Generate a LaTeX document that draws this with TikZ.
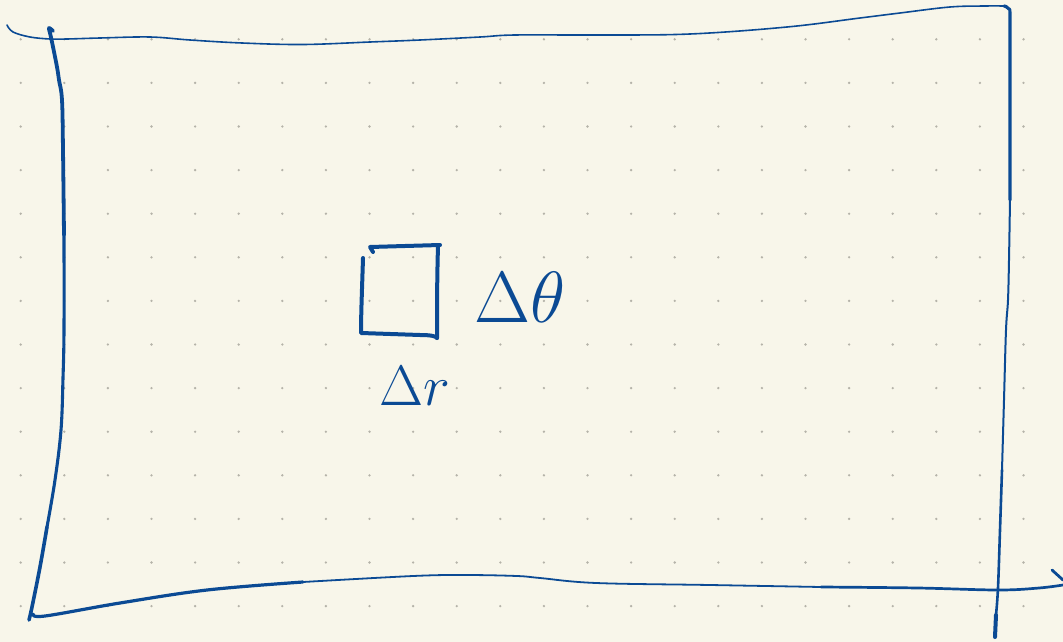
\documentclass[tikz,border=0pt]{standalone}
\usepackage{amsmath}
\definecolor{paper}{HTML}{F8F6EA}
\definecolor{ink}{HTML}{0B4A94}
\definecolor{dotc}{HTML}{B5B3A9}
\tikzset{
  pen/.style={draw=ink,line cap=round,line join=round},
  hand/.style={text=ink,inner sep=0pt,anchor=base west,font=\fontsize{16}{16}\selectfont},
}
\begin{document}
\begin{tikzpicture}[x=1pt,y=-1pt]
\fill[paper] (0,0) rectangle (1063,642);
\useasboundingbox (0,0) rectangle (1063,642);
% dot grid
\foreach \i in {0,...,23}{
  \foreach \j in {0,...,13}{
    \fill[dotc] ({20.7+43.6*\i},{39.3+43.6*\j}) circle (1.3);
  }
}
% top line
\draw[pen,line width=1.6] plot[smooth,tension=0.6] coordinates {(7,25)(13,32)(30,37)(50,39)(67,39)(100,38)(150,37)(190,40)(242,43)(303,44.5)(370,42)(420,40)(480,37)(515,35)(600,35)(690,34)(787,27)(860,18)(900,13)(950,7)(985,6)(1004,6)};
% right line
\draw[pen,line width=3.2] plot[smooth,tension=0.6] coordinates {(1004,6)(1009,9)(1010,20)(1010,100)(1010,200)};
\draw[pen,line width=2] plot[smooth,tension=0.6] coordinates {(1010,200)(1009,260)(1008,300)(1006,330)(1004,400)(1002,470)};
\draw[pen,line width=2.6] plot[smooth,tension=0.6] coordinates {(1002,470)(1000,530)(998,588)(996,615)};
\draw[pen,line width=4] (996,615) -- (995,637);
% left line
\draw[pen,line width=3.8] plot[smooth,tension=0.6] coordinates {(53,31)(49,28)(50,33)(52,42)(57,67)(59,80)(62,100)(63,150)(64,235)};
\draw[pen,line width=3.1] plot[smooth,tension=0.6] coordinates {(64,235)(64,330)(63,378)(61,430)(55,480)(47,527)};
\draw[pen,line width=3.6] plot[smooth,tension=0.6] coordinates {(47,527)(40,567)(32,607)(29,620)};
% bottom line
\draw[pen,line width=3.2] plot[smooth,tension=0.6] coordinates {(33,614)(45,616)(120,603)(207,590)(303,582)};
\draw[pen,line width=1.8] plot[smooth,tension=0.6] coordinates {(303,582)(413,576)(465,575)(517,576)(540,578)(596,583)(710,585)(821,587)};
\draw[pen,line width=2.7] plot[smooth,tension=0.6] coordinates {(821,587)(918,588)(998,590)(1039,588)(1063,585)};
\draw[pen,line width=2.8] (1052,570) -- (1063,580);
% small cell
\draw[pen,line width=4] (373,252) -- (370,247) -- (440,245);
\draw[pen,line width=4] (438,246) .. controls (437,280) and (437,310) .. (437,338);
\draw[pen,line width=4] (363,258) .. controls (362,290) and (361,315) .. (361,333) -- (420,335) .. controls (430,335) and (436,336) .. (437,338);
% labels
\node[hand,scale=4.2] (dtheta) at (474,322) {$\Delta\theta$};
\node[hand,scale=3.3] (dr) at (379,405) {$\Delta r$};
\end{tikzpicture}
\end{document}
